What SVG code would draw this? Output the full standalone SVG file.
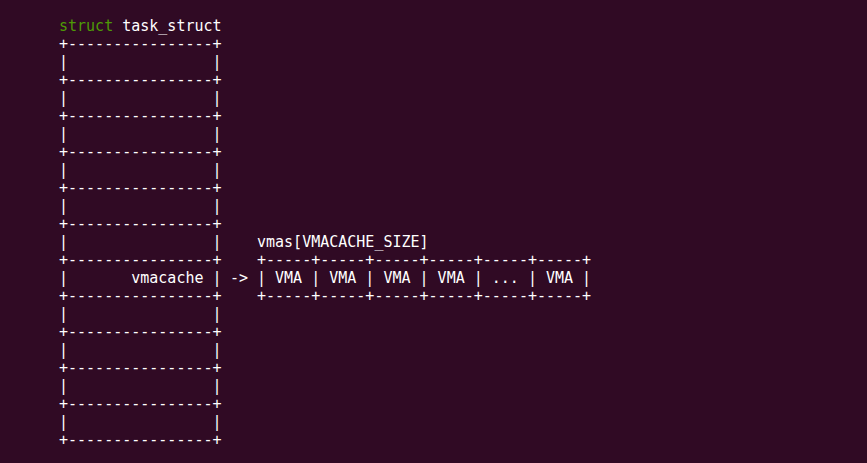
<svg xmlns="http://www.w3.org/2000/svg" width="867" height="463" viewBox="0 0 867 463" xml:space="preserve">
<style>
text { font-family: "DejaVu Sans Mono", "Liberation Mono", monospace; font-size: 15px; fill: #ffffff; white-space: pre; }
.kw { fill: #4e9a06; }
</style>
<rect width="867" height="463" fill="#300a24"/>
<g id="task_struct">
<text x="59" y="31"><tspan class="kw">struct</tspan> task_struct</text>
<text x="59" y="49">+----------------+</text>
<text x="59" y="67">|                |</text>
<text x="59" y="85">+----------------+</text>
<text x="59" y="103">|                |</text>
<text x="59" y="121">+----------------+</text>
<text x="59" y="139">|                |</text>
<text x="59" y="157">+----------------+</text>
<text x="59" y="175">|                |</text>
<text x="59" y="193">+----------------+</text>
<text x="59" y="211">|                |</text>
<text x="59" y="229">+----------------+</text>
<text x="59" y="247">|                |</text>
<text x="59" y="265">+----------------+</text>
<text x="59" y="283">|       vmacache |</text>
<text x="59" y="301">+----------------+</text>
<text x="59" y="319">|                |</text>
<text x="59" y="337">+----------------+</text>
<text x="59" y="355">|                |</text>
<text x="59" y="373">+----------------+</text>
<text x="59" y="391">|                |</text>
<text x="59" y="409">+----------------+</text>
<text x="59" y="427">|                |</text>
<text x="59" y="445">+----------------+</text>
</g>
<g id="vmas">
<text x="257" y="247">vmas[VMACACHE_SIZE]</text>
<text x="257" y="265">+-----+-----+-----+-----+-----+-----+</text>
<text x="257" y="283">| VMA | VMA | VMA | VMA | ... | VMA |</text>
<text x="257" y="301">+-----+-----+-----+-----+-----+-----+</text>
</g>
<g id="connectors">
<text x="230" y="283">-&gt;</text>
</g>
</svg>
